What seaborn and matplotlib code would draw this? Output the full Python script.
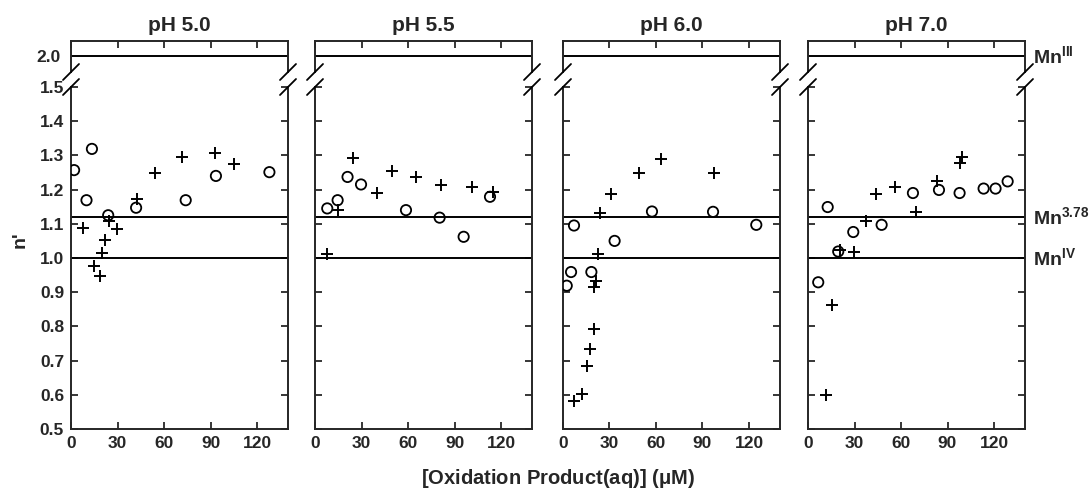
import numpy as np
import pandas as pd
import matplotlib
matplotlib.use("Agg")
import matplotlib.pyplot as plt
import seaborn as sns

# panel titles
panels = ["pH 5.0", "pH 5.5", "pH 6.0", "pH 7.0"]

# open circles (x in uM, y = n')
circ_x = [
    [2, 10, 13.5, 24, 42, 74, 93.5, 128],
    [7.9, 14.6, 21, 29.7, 58.7, 80.4, 95.9, 112.9],
    [2.4, 5.2, 7.1, 18.3, 33.3, 57.4, 96.8, 124.7],
    [6.6, 12.7, 19.5, 29.2, 47.5, 67.7, 84.5, 97.8, 113.3, 121, 128.8],
]
circ_y = [
    [1.257, 1.169, 1.319, 1.125, 1.147, 1.169, 1.240, 1.251],
    [1.145, 1.169, 1.237, 1.215, 1.140, 1.118, 1.062, 1.179],
    [0.919, 0.959, 1.095, 0.959, 1.050, 1.136, 1.135, 1.097],
    [0.929, 1.149, 1.019, 1.076, 1.097, 1.190, 1.199, 1.190, 1.203, 1.203, 1.224],
]

# crosses
plus_x = [
    [8, 15, 18.5, 20.2, 21.7, 24.5, 29.5, 42.4, 54.4, 71.8, 93, 105.4],
    [7.9, 14.6, 24.7, 39.8, 49.7, 65.2, 81.1, 101, 114.6],
    [6.9, 12.1, 15.5, 17.4, 20, 20, 21.1, 22.6, 23.9, 31, 49, 63.4, 97.2],
    [11.6, 15.3, 20.6, 29.7, 37.2, 43.9, 56.3, 69.7, 83, 98, 99.6],
]
plus_y = [
    [1.087, 0.978, 0.948, 1.015, 1.052, 1.107, 1.086, 1.172, 1.250, 1.296, 1.308, 1.275],
    [1.013, 1.140, 1.292, 1.190, 1.253, 1.238, 1.213, 1.208, 1.193],
    [0.582, 0.603, 0.684, 0.735, 0.793, 0.914, 0.932, 1.013, 1.131, 1.188, 1.248, 1.290, 1.248],
    [0.600, 0.864, 1.023, 1.019, 1.109, 1.187, 1.209, 1.134, 1.224, 1.279, 1.296],
]

# reference oxidation states
ref_levels = [2.0, 1.12, 1.0]
ref_labels = [r"$\mathbf{Mn^{III}}$", r"$\mathbf{Mn^{3.78}}$", r"$\mathbf{Mn^{IV}}$"]

xticks = [0, 30, 60, 90, 120]
yticks = [0.5, 0.6, 0.7, 0.8, 0.9, 1.0, 1.1, 1.2, 1.3, 1.4, 1.5]

sns.set_style("ticks")
plt.rcParams["font.family"] = ["Liberation Sans", "DejaVu Sans"]
plt.rcParams["font.weight"] = "bold"
plt.rcParams["mathtext.fontset"] = "custom"
plt.rcParams["mathtext.bf"] = "Liberation Sans:bold"
plt.rcParams["mathtext.rm"] = "Liberation Sans:bold"
plt.rcParams["axes.linewidth"] = 1.4

W, H = 1090, 494
fig = plt.figure(figsize=(W / 100, H / 100), dpi=100)

lefts = [71, 315, 563, 808]
pw = 217
top_y0, top_y1 = 41, 72
bot_y0, bot_y1 = 87, 429


def fax(x0, y0, w, h):
    return fig.add_axes([x0 / W, 1 - (y0 + h) / H, w / W, h / H])


lw = 1.4
for i, name in enumerate(panels):
    x0 = lefts[i]
    axt = fax(x0, top_y0, pw, top_y1 - top_y0)
    axb = fax(x0, bot_y0, pw, bot_y1 - bot_y0)

    dc = pd.DataFrame({"x": circ_x[i], "y": circ_y[i]})
    dp = pd.DataFrame({"x": plus_x[i], "y": plus_y[i]})
    sns.scatterplot(data=dc, x="x", y="y", ax=axb, marker="o", s=55,
                    facecolor="none", edgecolor="black", linewidth=1.3, zorder=3)
    sns.scatterplot(data=dp, x="x", y="y", ax=axb, marker="+", s=75,
                    color="black", linewidth=1.4, zorder=3)

    axt.axhline(ref_levels[0], color="black", lw=lw)
    for lv in ref_levels[1:]:
        axb.axhline(lv, color="black", lw=lw)

    for ax in (axt, axb):
        ax.set_xlim(0, 140)
        ax.set_xlabel("")
        ax.set_ylabel("")
        ax.set_xticks(xticks)

    axb.set_ylim(0.5, 1.5)
    axt.set_ylim(2.0 - 15 / 343, 2.0 + 14 / 343)

    axt.spines["bottom"].set_visible(False)
    axb.spines["top"].set_visible(False)
    axt.tick_params(axis="x", which="both", bottom=False, top=True, labelbottom=False,
                    direction="in", length=5, width=1.3)
    axt.set_yticks([2.0])
    axt.tick_params(axis="y", left=False, right=False, labelsize=12.5, pad=4)
    axb.set_yticks(yticks)
    axb.tick_params(axis="both", direction="in", length=5, width=1.3,
                    left=True, right=True, labelsize=12.5, pad=5)
    axb.set_xticklabels([str(t) for t in xticks], fontweight="bold")
    if i == 0:
        axb.set_yticklabels([f"{t:.1f}" for t in yticks], fontweight="bold")
        axt.set_yticklabels(["2.0"], fontweight="bold")
    else:
        axb.set_yticklabels([])
        axt.set_yticklabels([])

    axt.set_title(name, fontsize=15, fontweight="bold", pad=7)

    # break marks
    d = 8
    for xe in (x0, x0 + pw):
        for ye in (top_y1, bot_y0):
            fig.add_artist(plt.Line2D([(xe - d) / W, (xe + d) / W],
                                      [1 - (ye + d) / H, 1 - (ye - d) / H],
                                      color="black", lw=1.3))

    if i == 3:
        axt.text(1.035, ref_levels[0], ref_labels[0], transform=axt.get_yaxis_transform(),
                 fontsize=14, va="center", ha="left")
        for lv, lb in zip(ref_levels[1:], ref_labels[1:]):
            axb.text(1.035, lv, lb, transform=axb.get_yaxis_transform(),
                     fontsize=14, va="center", ha="left")

fig.text(20 / W, 1 - 240 / H, "n'", rotation=90, fontsize=14, fontweight="bold",
         ha="center", va="center")
fig.text(558 / W, 1 - 478 / H, r"[Oxidation Product(aq)] ($\mathbf{\mu}$M)",
         fontsize=14.5, fontweight="bold", ha="center", va="center")

fig.savefig("out.png", dpi=100)
